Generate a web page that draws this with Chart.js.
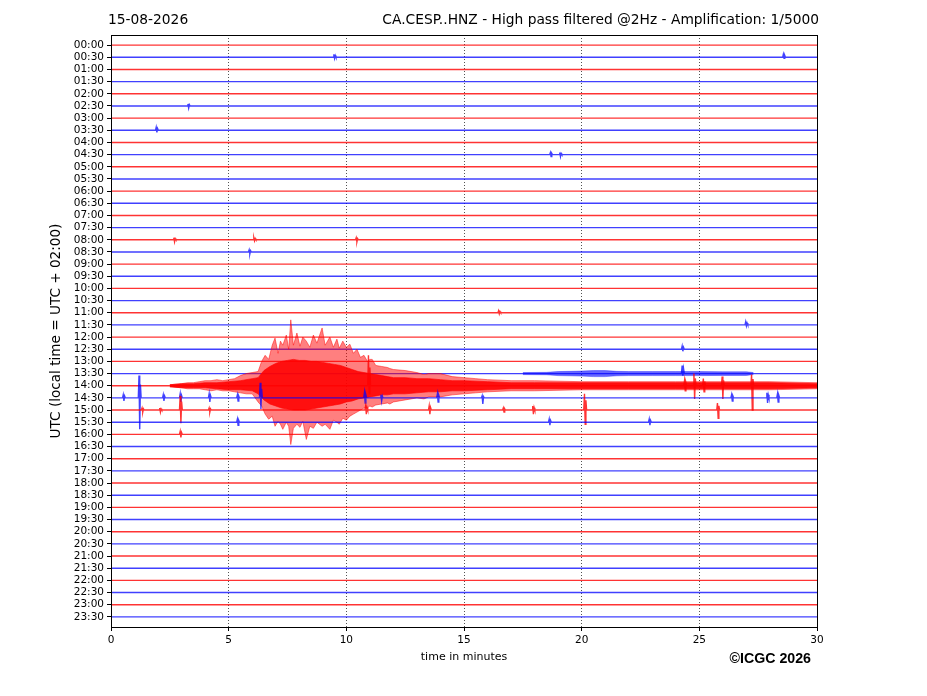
<!DOCTYPE html>
<html>
<head>
<meta charset="utf-8">
<script src="https://cdn.jsdelivr.net/npm/chart.js@4/dist/chart.umd.min.js"></script>
<style>
  body { margin: 0; background: #fff; }
  #wrap { width: 927px; height: 696px; }
</style>
</head>
<body>
<div id="wrap"><canvas id="heli" width="927" height="696"></canvas></div>
<script>
//Dados
const dia = '15-08-2026'
const titulo = 'CA.CESP..HNZ - High pass filtered @2Hz - Amplification: 1/5000'
const horas = ['00:00','00:30','01:00','01:30','02:00','02:30','03:00','03:30','04:00','04:30',
    '05:00','05:30','06:00','06:30','07:00','07:30','08:00','08:30','09:00','09:30',
    '10:00','10:30','11:00','11:30','12:00','12:30','13:00','13:30','14:00','14:30',
    '15:00','15:30','16:00','16:30','17:00','17:30','18:00','18:30','19:00','19:30',
    '20:00','20:30','21:00','21:30','22:00','22:30','23:00','23:30']
const minutosTicks = [0, 5, 10, 15, 20, 25, 30]
const espaco = 12   // amplitude units between two traces

//Pulsos isolados: [linha, minuto, subida, descida]
const pulsos = [
    [1, 9.5, 3, 1], [1, 28.6, 3, 1],
    [5, 3.3, 2, 2],
    [7, 1.95, 3, 2],
    [9, 18.7, 2, 2], [9, 19.1, 2, 2],
    [16, 2.7, 2, 2], [16, 6.1, 2, 1], [16, 10.45, 2, 2],
    [17, 5.9, 2, 2],
    [22, 16.5, 2, 1],
    [23, 27.0, 3, 1],
    [25, 24.3, 3, 2],
    [27, 24.3, 8, 2],
    [28, 10.97, 30, 8], [28, 24.4, 5, 5], [28, 24.8, 12, 13], [28, 25.2, 7, 6], [28, 26.0, 9, 13], [28, 27.25, 11, 24],
    [29, 0.55, 3, 3], [29, 1.22, 22, 31], [29, 2.25, 3, 3], [29, 2.97, 4, 4], [29, 4.2, 4, 4], [29, 5.4, 3, 3],
    [29, 6.37, 15, 11], [29, 10.8, 5, 5], [29, 11.5, 3, 3], [29, 13.9, 4, 4], [29, 15.8, 2, 6],
    [29, 26.4, 3, 3], [29, 27.9, 5, 5], [29, 28.35, 4, 4],
    [30, 1.35, 2, 2], [30, 2.1, 2, 2], [30, 2.97, 14, 13], [30, 4.2, 2, 2], [30, 10.85, 4, 4],
    [30, 13.55, 4, 4], [30, 16.7, 2, 2], [30, 17.95, 4, 4], [30, 20.15, 16, 14], [30, 25.8, 7, 8],
    [31, 5.4, 3, 3], [31, 18.65, 3, 3], [31, 22.9, 3, 3],
    [32, 2.97, 3, 3]
]

//Sismo na linha das 14:00 - picos
const sismoLinha = 28
const picoTempo = [2.5, 3.0, 3.25, 3.5, 3.75, 4.0, 4.25, 4.5, 4.75, 5.0, 5.25, 5.5, 5.75, 6.0, 6.25,
    6.4, 6.55, 6.7, 6.85, 6.97, 7.1, 7.2, 7.3, 7.45, 7.55, 7.64, 7.75, 7.9, 8.03, 8.15, 8.3, 8.45, 8.6, 8.75,
    8.97, 9.1, 9.3, 9.45, 9.6, 9.7, 9.85, 10.0, 10.15, 10.3, 10.45, 10.6, 10.75, 10.9, 11.0,
    11.1, 11.25, 11.5, 11.75, 11.85, 12.0, 12.5, 13.0, 13.3, 13.5, 14.0, 14.5, 15.0, 15.5, 16.0, 17.0, 18.0,
    20, 22, 24, 26, 28, 30]
const picoSobe = [1, 2, 3, 3, 4, 5, 5, 6, 5, 6, 7, 10, 12, 13, 14,
    24, 30, 26, 40, 47, 32, 44, 40, 50, 36, 65, 40, 52, 39, 48, 44, 38, 50, 42,
    57, 40, 48, 38, 46, 37, 44, 38, 41, 32, 36, 28, 30, 24, 26,
    26, 20, 19, 18, 17, 16, 15, 13, 11, 12, 12, 9, 8, 7, 6, 5, 5,
    4, 4, 4, 4, 4, 3]
const picoDesce = [1, 2, 3, 3, 3, 4, 5, 4, 5, 5, 6, 7, 8, 8, 16,
    20, 28, 33, 30, 40, 35, 38, 43, 36, 40, 58, 42, 38, 41, 35, 53, 40, 42, 36,
    40, 38, 43, 34, 36, 38, 32, 34, 30, 28, 26, 24, 22, 22, 20,
    21, 19, 18, 17, 18, 16, 14, 12, 13, 11, 11, 9, 8, 7, 6, 5, 5,
    4, 4, 4, 4, 4, 3]

//Sismo - nucleo denso
const nucleoTempo = [2.5, 3.0, 3.5, 4.0, 4.5, 5.0, 5.5, 6.0, 6.25, 6.5, 6.75, 7.0, 7.25, 7.5, 7.75, 8.0,
    8.25, 8.5, 8.75, 9.0, 9.25, 9.5, 9.75, 10.0, 10.25, 10.5, 10.75, 11.0, 11.25, 11.5, 11.75, 12.0,
    12.5, 13.0, 13.5, 14.0, 14.5, 15.0, 16.0, 17.0, 18.0, 20, 22, 24, 26, 28, 30]
const nucleoSobe = [1, 2, 2, 3, 3, 4, 5, 7, 8, 15, 19, 22, 24, 25, 26, 25,
    25, 24, 24, 23, 22, 21, 20, 18, 16, 14, 13, 12, 11, 10, 9, 8,
    8, 7, 7, 6, 5, 5, 4, 3, 3, 3, 3, 3, 3, 3, 2]
const nucleoDesce = [1, 2, 2, 2, 3, 4, 4, 5, 8, 14, 18, 20, 22, 23, 24, 24,
    24, 23, 22, 21, 20, 19, 18, 16, 15, 13, 12, 11, 10, 9, 9, 8,
    8, 7, 6, 6, 5, 5, 4, 3, 3, 3, 3, 3, 3, 3, 2]

//Ruido mais forte na linha das 13:30
const faixaLinha = 27
const faixaTempo = [17.5, 18.5, 19.0, 19.5, 20.0, 20.5, 21.0, 21.5, 22, 23, 24, 25, 26, 27, 27.3]
const faixaAmp = [1, 1.2, 2, 2.2, 2.5, 3, 3, 2.2, 2, 2, 2, 2, 1.8, 1.8, 1]

//Cores
const vermelho = 'rgba(255, 0, 0, 0.8)'
const azul = 'rgba(0, 0, 255, 0.75)'

//Montar datasets
let datasets = []

horas.forEach((h, i) => {
    const base = i * espaco
    let pts = [{ x: 0, y: base }]
    pulsos.filter(p => p[0] === i).sort((a, b) => a[1] - b[1]).forEach(p => {
        const t = p[1]
        pts.push({ x: t - 0.06, y: base })
        pts.push({ x: t - 0.03, y: base - p[2] })
        pts.push({ x: t, y: base + p[3] })
        pts.push({ x: t + 0.03, y: base - p[2] * 0.6 })
        pts.push({ x: t + 0.06, y: base })
    })
    pts.push({ x: 30, y: base })
    datasets.push({
        data: pts,
        borderColor: i % 2 === 0 ? vermelho : azul,
        borderWidth: 1.4,
        order: 1000 - i * 10
    })
})

function faixa(tempos, sobe, desce, linha, cor, borda, ordem) {
    const base = linha * espaco
    datasets.push({
        data: tempos.map((t, k) => ({ x: t, y: base - sobe[k] })),
        borderColor: borda, borderWidth: 0.7, fill: false, order: ordem
    })
    datasets.push({
        data: tempos.map((t, k) => ({ x: t, y: base + desce[k] })),
        borderColor: borda, borderWidth: 0.7, fill: '-1', backgroundColor: cor, order: ordem
    })
}

faixa(faixaTempo, faixaAmp, faixaAmp, faixaLinha, 'rgba(0, 0, 255, 0.6)', 'rgba(0, 0, 255, 0.5)', 1000 - faixaLinha * 10 - 5)
faixa(picoTempo, picoSobe, picoDesce, sismoLinha, 'rgba(255, 0, 0, 0.5)', 'rgba(255, 0, 0, 0.7)', 1000 - sismoLinha * 10 - 4)
faixa(nucleoTempo, nucleoSobe, nucleoDesce, sismoLinha, 'rgba(255, 0, 0, 0.88)', 'rgba(255, 0, 0, 0.9)', 1000 - sismoLinha * 10 - 6)

//Moldura e textos
const moldura = {
    id: 'moldura',
    afterDraw(chart) {
        const { ctx, chartArea: a } = chart
        ctx.save()
        ctx.strokeStyle = '#000'
        ctx.lineWidth = 1
        ctx.strokeRect(Math.round(a.left) + 0.5, Math.round(a.top) + 0.5, Math.round(a.right - a.left), Math.round(a.bottom - a.top))
        ctx.fillStyle = '#000'
        ctx.textBaseline = 'middle'
        ctx.font = '13.8px "DejaVu Sans"'
        ctx.textAlign = 'left'
        ctx.fillText(dia, 108, 20)
        ctx.textAlign = 'right'
        ctx.fillText(titulo, 819, 20)
        ctx.font = 'bold 14.2px "Liberation Sans"'
        ctx.fillText('\u00A9ICGC 2026', 811, 659)
        ctx.restore()
    }
}

let ctxHeli = document.getElementById('heli')
let heli = new Chart(ctxHeli, {
    type: 'line',
    data: { datasets: datasets },
    options: {
        responsive: false,
        animation: false,
        devicePixelRatio: 1,
        layout: { padding: { top: 35, right: 110, left: 0, bottom: 0 } },
        elements: { point: { radius: 0 }, line: { tension: 0 } },
        plugins: { legend: { display: false }, tooltip: { enabled: false } },
        scales: {
            x: {
                type: 'linear', min: 0, max: 30,
                afterBuildTicks: s => { s.ticks = minutosTicks.map(v => ({ value: v })) },
                afterFit: s => { s.height = 69 },
                ticks: { color: '#000', font: { family: 'DejaVu Sans', size: 10.5 }, padding: 3, maxRotation: 0 },
                grid: {
                    color: c => (c.tick && (c.tick.value === 0 || c.tick.value === 30)) ? 'rgba(0,0,0,0)' : 'rgba(0,0,0,0.85)',
                    lineWidth: 0.8, tickLength: 4, tickColor: '#000', tickWidth: 1, tickBorderDash: []
                },
                border: { display: true, color: '#000', width: 1, dash: [1, 2] },
                title: { display: true, text: 'time in minutes', color: '#000', font: { family: 'DejaVu Sans', size: 11 }, padding: { top: 0, bottom: 32 } }
            },
            y: {
                type: 'linear', reverse: true, min: -10, max: (horas.length - 1) * espaco + 10,
                afterBuildTicks: s => { s.ticks = horas.map((h, i) => ({ value: i * espaco })) },
                afterFit: s => { s.width = 111 },
                ticks: {
                    autoSkip: false, color: '#000', font: { family: 'DejaVu Sans', size: 10.5 }, padding: 3,
                    callback: (v, idx) => horas[idx]
                },
                grid: { drawOnChartArea: false, tickLength: 4, tickColor: '#000', tickWidth: 1 },
                border: { display: true, color: '#000', width: 1 },
                title: { display: true, text: 'UTC (local time = UTC + 02:00)', color: '#000', font: { family: 'DejaVu Sans', size: 13.6 }, padding: { top: 48, bottom: 0 } }
            }
        }
    },
    plugins: [moldura]
})
</script>
</body>
</html>
